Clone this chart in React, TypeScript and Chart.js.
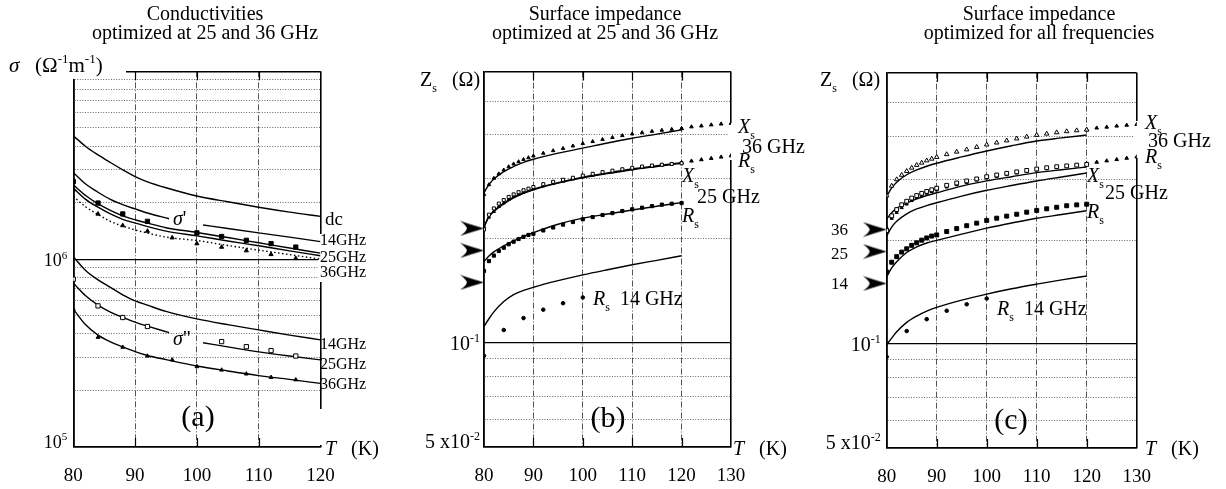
import React, { useEffect, useRef } from 'react';
import { Chart, registerables } from 'chart.js';
Chart.register(...registerables);

const FONT = "'Liberation Serif', 'Times New Roman', serif";

// ---------------- Panel (a): conductivities ----------------
const T_TICKS_A = [80, 90, 100, 110, 120];
const SIGMA_TICKS = [1e5, 2e5, 3e5, 4e5, 5e5, 6e5, 7e5, 8e5, 9e5, 1e6, 2e6, 3e6, 4e6, 5e6, 6e6, 7e6, 8e6, 9e6, 1e7];
const SIGMA_LABEL_VALUES = [1e6, 1e5];
const SIGMA_LABEL_TEXT = [['10', '6'], ['10', '5']];

const T_FIT_A = [80, 82, 84, 86, 88, 90, 92, 95, 100, 105, 110, 115, 120];
const T_GAP_A = [80, 82, 84, 86, 88, 90, 92, 95.5, 98, 101, 105, 110, 115, 120];
const T_DATA_A = [80, 84, 88, 92, 96, 100, 104, 108, 112, 116];

const sigmaDc = [4.54e6, 3.98e6, 3.59e6, 3.27e6, 2.99e6, 2.75e6, 2.58e6, 2.4e6, 2.17e6, 2.02e6, 1.89e6, 1.78e6, 1.69e6];
const sigmaRe14 = [2.89e6, 2.51e6, 2.27e6, 2.08e6, 1.95e6, 1.85e6, 1.76e6, 1.64e6, null, 1.52e6, 1.455e6, 1.38e6, 1.31e6, 1.24e6];
const sigmaRe25 = [2.49e6, 2.18e6, 1.97e6, 1.82e6, 1.7e6, 1.62e6, 1.556e6, 1.47e6, 1.387e6, 1.303e6, 1.222e6, 1.146e6, 1.076e6];
const sigmaRe36 = [2.39e6, 2.08e6, 1.89e6, 1.74e6, 1.63e6, 1.556e6, 1.49e6, 1.41e6, 1.33e6, 1.25e6, 1.178e6, 1.107e6, 1.042e6];
const sigmaReDotted = [2.16e6, 1.9e6, 1.73e6, 1.59e6, 1.5e6, 1.43e6, 1.377e6, 1.31e6, 1.256e6, 1.183e6, 1.117e6, 1.057e6, 1.0e6];
const sigmaRe25Data = [2.59e6, 1.99e6, 1.74e6, 1.59e6, null, 1.38e6, 1.32e6, 1.26e6, 1.21e6, 1.16e6];
const sigmaRe36Data = [2.34e6, 1.74e6, 1.51e6, 1.41e6, 1.3e6, 1.21e6, 1.16e6, 1.11e6, 1.06e6, 1.01e6];

const sigmaIm14 = [1.03e6, 8.71e5, 7.76e5, 7.08e5, 6.46e5, 6.0e5, 5.69e5, 5.27e5, 4.81e5, 4.48e5, 4.2e5, 3.94e5, 3.72e5];
const sigmaIm25 = [7.45e5, 6.38e5, 5.69e5, 5.22e5, 4.9e5, 4.62e5, 4.4e5, 4.06e5, null, 3.59e5, 3.41e5, 3.21e5, 3.05e5, 2.91e5];
const sigmaIm36 = [5.42e5, 4.47e5, 3.94e5, 3.63e5, 3.41e5, 3.22e5, 3.07e5, 2.92e5, 2.7e5, 2.54e5, 2.4e5, 2.29e5, 2.18e5];
const sigmaIm25Data = [7.82e5, 5.64e5, 4.89e5, 4.38e5, null, null, 3.64e5, 3.42e5, 3.26e5, 3.05e5];
const sigmaIm36Data = [5.42e5, 3.84e5, 3.4e5, 3.05e5, 2.91e5, 2.68e5, 2.57e5, 2.45e5, 2.35e5, 2.28e5];

// ---------------- Panels (b), (c): surface impedance ----------------
const T_TICKS_Z = [80, 90, 100, 110, 120, 130];
const Z_TICKS = [0.05, 0.06, 0.07, 0.08, 0.09, 0.1, 0.2, 0.3, 0.4, 0.5, 0.61];
const Z_LABEL_VALUES = [0.1, 0.05];
const Z_LABEL_TEXT = [['10', '-1'], ['5 x10', '-2']];

const T_FIT_Z = [80, 81, 82, 84, 86, 88, 90, 95, 100, 105, 110, 115, 120];
const T_MEAS = [80, 81, 82, 83, 84, 85, 86, 87, 88, 89, 90, 92, 94, 96, 98, 100, 102, 104, 106, 108, 110, 112, 114, 116, 118, 120];
const T_EXT = [120, 122, 124, 126, 128, 130];
const T_R14 = [80, 84, 88, 92, 96, 100];
const ARROW_TEXT = ['36', '25', '14'];

// measured (same in both panels)
const xs36Meas = [0.269, 0.287, 0.2995, 0.3085, 0.3165, 0.3235, 0.3295, 0.3345, 0.3395, 0.3435, 0.3475, 0.354, 0.36, 0.3655, 0.3715, 0.3775, 0.3825, 0.388, 0.393, 0.398, 0.4025, 0.406, 0.4095, 0.4125, 0.415, 0.417];
const rs36Meas = [0.2173, 0.231, 0.24, 0.248, 0.254, 0.26, 0.265, 0.269, 0.273, 0.276, 0.279, 0.2845, 0.289, 0.2935, 0.298, 0.302, 0.3055, 0.309, 0.3125, 0.3155, 0.3185, 0.3215, 0.3245, 0.327, 0.3295, 0.3325];
const xs25Meas = [0.213, 0.235, 0.245, 0.253, 0.259, 0.2645, 0.269, 0.273, 0.2765, 0.2795, 0.2825, 0.288, 0.2925, 0.2965, 0.3005, 0.305, 0.3085, 0.312, 0.315, 0.318, 0.321, 0.3238, 0.326, 0.3278, 0.3295, 0.331];
const rs25Meas = [0.1615, 0.1725, 0.179, 0.1845, 0.1886, 0.193, 0.1963, 0.1998, 0.2028, 0.2053, 0.2069, 0.2116, 0.2158, 0.22, 0.2238, 0.2279, 0.2313, 0.2345, 0.2375, 0.2408, 0.2436, 0.2462, 0.2488, 0.2513, 0.2528, 0.2539];
const rs14Meas = [0.0918, 0.109, 0.118, 0.1248, 0.1303, 0.1354];
const xs36Ext = [0.417, 0.422, 0.4245, 0.4275, 0.43, 0.432];
const rs36Ext = [0.3325, 0.336, 0.339, 0.342, 0.345, 0.348];
const arrowZ = [0.2145, 0.1852, 0.1497];

// fits, panel (b)
const xs36FitB = [0.272, 0.287, 0.298, 0.313, 0.324, 0.333, 0.34, 0.354, 0.366, 0.379, 0.391, 0.402, 0.4135];
const rs36FitB = [0.2173, 0.2323, 0.241, 0.2535, 0.264, 0.272, 0.2786, 0.291, 0.3018, 0.3103, 0.3185, 0.3255, 0.3325];
const xs25FitB = [0.2165, 0.2315, 0.24, 0.2525, 0.263, 0.271, 0.2775, 0.29, 0.3005, 0.309, 0.317, 0.324, 0.331];
const rs25FitB = [0.172, 0.1785, 0.1835, 0.191, 0.1975, 0.2035, 0.2086, 0.2205, 0.2296, 0.236, 0.2425, 0.2487, 0.2547];
const rs14FitB = [0.1115, 0.1175, 0.123, 0.1318, 0.138, 0.1419, 0.1449, 0.1514, 0.1574, 0.1629, 0.1683, 0.1734, 0.1787];

// fits, panel (c)
const xs36FitC = [0.268, 0.283, 0.294, 0.309, 0.319, 0.327, 0.3336, 0.348, 0.362, 0.375, 0.3869, 0.395, 0.4027];
const rs36FitC = [0.23, 0.24, 0.247, 0.256, 0.263, 0.269, 0.274, 0.2865, 0.2965, 0.305, 0.3133, 0.3195, 0.3253];
const xs25FitC = [0.2054, 0.218, 0.2265, 0.238, 0.246, 0.2515, 0.2564, 0.268, 0.2786, 0.2877, 0.2965, 0.3045, 0.3126];
const rs25FitC = [0.1567, 0.166, 0.173, 0.184, 0.191, 0.196, 0.1995, 0.208, 0.2164, 0.224, 0.2312, 0.237, 0.2431];
const rs14FitC = [0.0995, 0.104, 0.1085, 0.1155, 0.1205, 0.1245, 0.1277, 0.134, 0.1395, 0.1445, 0.149, 0.1533, 0.1574];

// ---------------- helpers ----------------
type Part = { t: string; i?: boolean; sub?: boolean; sup?: boolean };
type Label = { x: number; y: number; size: number; parts: Part[]; align?: 'left' | 'center' | 'right' };

const txt = (t: string): Part => ({ t });
const it = (t: string): Part => ({ t, i: true });
const sub = (t: string): Part => ({ t, sub: true });
const sup = (t: string): Part => ({ t, sup: true });

function drawRich(ctx: CanvasRenderingContext2D, lab: Label) {
  const size = lab.size;
  const font = (p: Part) => `${p.i ? 'italic ' : ''}${p.sub || p.sup ? Math.round(size * 0.62) : size}px ${FONT}`;
  let w = 0;
  for (const p of lab.parts) {
    ctx.font = font(p);
    w += ctx.measureText(p.t).width;
  }
  let x = lab.align === 'center' ? lab.x - w / 2 : lab.align === 'right' ? lab.x - w : lab.x;
  ctx.save();
  ctx.fillStyle = '#000';
  ctx.textBaseline = 'alphabetic';
  ctx.textAlign = 'left';
  for (const p of lab.parts) {
    ctx.font = font(p);
    const dy = p.sub ? size * 0.3 : p.sup ? -size * 0.42 : 0;
    ctx.fillText(p.t, x, lab.y + dy);
    x += ctx.measureText(p.t).width;
  }
  ctx.restore();
}

const pts = (xs: number[], ys: (number | null)[]) => xs.map((x, i) => ({ x, y: ys[i] }));

const curve = (xs: number[], ys: (number | null)[], dash: number[] = []) => ({
  data: pts(xs, ys),
  showLine: true,
  borderColor: '#000',
  borderWidth: 1.4,
  borderDash: dash,
  pointRadius: 0,
  cubicInterpolationMode: 'monotone',
  spanGaps: false,
  order: 2,
});

const marks = (xs: number[], ys: (number | null)[], style: any, r: number, filled: boolean) => ({
  data: pts(xs, ys).filter((p) => p.y !== null),
  showLine: false,
  pointStyle: style,
  pointRadius: r,
  pointBorderWidth: 1,
  pointBorderColor: '#000',
  pointBackgroundColor: filled ? '#000' : '#fff',
  order: 1,
});

function makeArrow() {
  const c = document.createElement('canvas');
  c.width = 24;
  c.height = 16;
  const g = c.getContext('2d')!;
  g.fillStyle = '#000';
  g.beginPath();
  g.moveTo(24, 8);
  g.quadraticCurveTo(12, 4.5, 0, 0.5);
  g.quadraticCurveTo(6, 4.5, 7, 8);
  g.quadraticCurveTo(6, 11.5, 0, 15.5);
  g.quadraticCurveTo(12, 11.5, 24, 8);
  g.closePath();
  g.fill();
  return c;
}

// ---------------- text labels ----------------
const LABELS_A: Label[] = [
  { x: 205, y: 20, size: 20, align: 'center', parts: [txt('Conductivities')] },
  { x: 205, y: 38.5, size: 20, align: 'center', parts: [txt('optimized at 25 and 36 GHz')] },
  { x: 9, y: 72, size: 21, parts: [it('σ'), txt('   (Ω'), sup('-1'), txt('m'), sup('-1'), txt(')')] },
  { x: 325, y: 225, size: 19, parts: [txt('dc')] },
  { x: 320, y: 245, size: 16, parts: [txt('14GHz')] },
  { x: 320, y: 261.5, size: 16, parts: [txt('25GHz')] },
  { x: 320, y: 277, size: 16, parts: [txt('36GHz')] },
  { x: 320, y: 349, size: 16, parts: [txt('14GHz')] },
  { x: 320, y: 369, size: 16, parts: [txt('25GHz')] },
  { x: 320, y: 389, size: 16, parts: [txt('36GHz')] },
  { x: 173, y: 225, size: 20, parts: [it('σ'), txt("'")] },
  { x: 173, y: 345, size: 20, parts: [it('σ'), txt('"')] },
  { x: 198, y: 426, size: 30, align: 'center', parts: [txt('(a)')] },
  { x: 325, y: 455, size: 20, parts: [it('T'), txt('   (K)')] },
];

const LABELS_B: Label[] = [
  { x: 605, y: 20, size: 20, align: 'center', parts: [txt('Surface impedance')] },
  { x: 605, y: 38.5, size: 20, align: 'center', parts: [txt('optimized at 25 and 36 GHz')] },
  { x: 420, y: 86, size: 20, parts: [txt('Z'), sub('s'), txt('   (Ω)')] },
  { x: 738, y: 133, size: 20, parts: [it('X'), sub('s')] },
  { x: 742, y: 153, size: 20, parts: [txt('36 GHz')] },
  { x: 738, y: 167, size: 20, parts: [it('R'), sub('s')] },
  { x: 682, y: 182, size: 20, parts: [it('X'), sub('s')] },
  { x: 697, y: 203, size: 20, parts: [txt('25 GHz')] },
  { x: 682, y: 222, size: 20, parts: [it('R'), sub('s')] },
  { x: 593, y: 305, size: 20, parts: [it('R'), sub('s'), txt('  14 GHz')] },
  { x: 608, y: 427, size: 30, align: 'center', parts: [txt('(b)')] },
  { x: 733, y: 455, size: 20, parts: [it('T'), txt('   (K)')] },
];

const LABELS_C: Label[] = [
  { x: 1039, y: 20, size: 20, align: 'center', parts: [txt('Surface impedance')] },
  { x: 1039, y: 38.5, size: 20, align: 'center', parts: [txt('optimized for all frequencies')] },
  { x: 820, y: 86, size: 20, parts: [txt('Z'), sub('s'), txt('   (Ω)')] },
  { x: 848, y: 235, size: 17, align: 'right', parts: [txt(ARROW_TEXT[0])] },
  { x: 848, y: 259, size: 17, align: 'right', parts: [txt(ARROW_TEXT[1])] },
  { x: 848, y: 289, size: 17, align: 'right', parts: [txt(ARROW_TEXT[2])] },
  { x: 1145, y: 129, size: 20, parts: [it('X'), sub('s')] },
  { x: 1148, y: 147, size: 20, parts: [txt('36 GHz')] },
  { x: 1145, y: 163, size: 20, parts: [it('R'), sub('s')] },
  { x: 1087, y: 182, size: 20, parts: [it('X'), sub('s')] },
  { x: 1105, y: 199, size: 20, parts: [txt('25 GHz')] },
  { x: 1087, y: 218, size: 20, parts: [it('R'), sub('s')] },
  { x: 997, y: 315, size: 20, parts: [it('R'), sub('s'), txt('  14 GHz')] },
  { x: 1011, y: 429, size: 30, align: 'center', parts: [txt('(c)')] },
  { x: 1145, y: 455, size: 20, parts: [it('T'), txt('   (K)')] },
];

// ---------------- chart factory ----------------
const W = 1226;
const H = 489;

function makeChart(canvas: HTMLCanvasElement, spec: any) {
  const near = (a: number, b: number) => Math.abs(a - b) <= Math.abs(b) * 1e-9;
  const edgeX = (v: any) => v !== undefined && (near(v, spec.xMin) || near(v, spec.xMax));
  const edgeY = (v: any) => v !== undefined && (near(v, spec.yMin) || near(v, spec.yMax));
  const majorY = (v: any) => v !== undefined && near(v, spec.yMajor);
  const xAxisH = H - spec.box.b;

  const decor = {
    id: 'decor_' + spec.id,
    beforeDatasetsDraw(chart: any) {
      const ctx = chart.ctx;
      const area = chart.chartArea;
      const xs = chart.scales.x;
      ctx.save();
      ctx.fillStyle = '#fff';
      for (const g of spec.gaps) ctx.fillRect(g[0], g[1], g[2], g[3]);
      ctx.strokeStyle = '#000';
      ctx.lineWidth = 1.2;
      ctx.setLineDash([]);
      for (const v of spec.innerTicks) {
        const px = Math.round(xs.getPixelForValue(v)) + 0.5;
        ctx.beginPath();
        ctx.moveTo(px, area.top);
        ctx.lineTo(px, area.top + 9);
        ctx.moveTo(px, area.bottom - 9);
        ctx.lineTo(px, area.bottom);
        ctx.stroke();
      }
      ctx.restore();
    },
    afterDatasetsDraw(chart: any) {
      if (!spec.arrows) return;
      const ctx = chart.ctx;
      const ys = chart.scales.y;
      const area = chart.chartArea;
      for (const v of spec.arrows) {
        const py = ys.getPixelForValue(v);
        ctx.drawImage(spec.arrowImg, area.left - spec.arrowImg.width, py - spec.arrowImg.height / 2);
      }
    },
    afterDraw(chart: any) {
      const ctx = chart.ctx;
      const ys = chart.scales.y;
      const area = chart.chartArea;
      spec.yLabelVals.forEach((v: number, i: number) => {
        const py = Math.min(ys.getPixelForValue(v) + 7, area.bottom + 1);
        drawRich(ctx, {
          x: area.left - spec.yLabelGap,
          y: py,
          size: spec.yLabelSize,
          align: 'right',
          parts: [txt(spec.yLabelText[i][0]), sup(spec.yLabelText[i][1])],
        });
      });
      for (const lab of spec.labels) drawRich(ctx, lab);
    },
  };

  return new Chart(canvas, {
    type: 'scatter',
    data: { datasets: spec.datasets },
    options: {
      animation: false,
      responsive: false,
      events: [],
      layout: {
        padding: { left: spec.box.l, right: W - spec.box.r, top: spec.box.t, bottom: 0 },
      },
      plugins: { legend: { display: false }, tooltip: { enabled: false }, title: { display: false } },
      scales: {
        x: {
          type: 'linear',
          min: spec.xMin,
          max: spec.xMax,
          afterBuildTicks: (s: any) => {
            s.ticks = spec.xTicks.map((v: number) => ({ value: v }));
          },
          afterFit: (s: any) => {
            s.height = xAxisH;
          },
          ticks: {
            padding: 18,
            color: '#000',
            autoSkip: false,
            maxRotation: 0,
            font: { family: FONT, size: 19 },
            callback: (v: any) => String(v),
          },
          grid: {
            drawTicks: false,
            color: (c: any) => (edgeX(c.tick && c.tick.value) ? '#000' : '#555'),
            lineWidth: (c: any) => (edgeX(c.tick && c.tick.value) ? 1.6 : 1),
          },
          border: {
            color: '#000',
            width: 1.6,
            dash: (c: any) => (c.tick && !edgeX(c.tick.value) ? [6, 2, 1, 2] : []),
          },
        },
        y: {
          type: 'logarithmic',
          min: spec.yMin,
          max: spec.yMax,
          afterBuildTicks: (s: any) => {
            s.ticks = spec.yTicks.map((v: number) => ({ value: v }));
          },
          afterFit: (s: any) => {
            s.width = 0;
          },
          ticks: { display: false },
          grid: {
            drawTicks: false,
            color: (c: any) => {
              const v = c.tick && c.tick.value;
              return edgeY(v) || majorY(v) ? '#000' : '#666';
            },
            lineWidth: (c: any) => {
              const v = c.tick && c.tick.value;
              return edgeY(v) ? 1.6 : majorY(v) ? 1.2 : 1;
            },
          },
          border: {
            color: '#000',
            width: 1.6,
            dash: (c: any) => {
              const v = c.tick && c.tick.value;
              return c.tick && !edgeY(v) && !majorY(v) ? [1, 1.6] : [];
            },
          },
        },
      },
    } as any,
    plugins: [decor],
  });
}

function specA() {
  return {
    id: 'a',
    box: { l: 73.3, r: 320.5, t: 71.3, b: 447 },
    xMin: 80,
    xMax: 120,
    xTicks: T_TICKS_A,
    yMin: 1e5,
    yMax: 1e7,
    yMajor: 1e6,
    yTicks: SIGMA_TICKS,
    yLabelVals: SIGMA_LABEL_VALUES,
    yLabelText: SIGMA_LABEL_TEXT,
    yLabelSize: 18,
    yLabelGap: 6,
    datasets: [
      curve(T_FIT_A, sigmaDc),
      curve(T_GAP_A, sigmaRe14),
      curve(T_FIT_A, sigmaRe25),
      curve(T_FIT_A, sigmaRe36),
      curve(T_FIT_A, sigmaReDotted, [1.5, 2.5]),
      marks(T_DATA_A, sigmaRe25Data, 'rect', 3, true),
      marks(T_DATA_A, sigmaRe36Data, 'triangle', 2.4, true),
      curve(T_FIT_A, sigmaIm14),
      curve(T_GAP_A, sigmaIm25),
      curve(T_FIT_A, sigmaIm36),
      marks(T_DATA_A, sigmaIm25Data, 'rect', 3, false),
      marks(T_DATA_A, sigmaIm36Data, 'triangle', 2.2, true),
    ],
    labels: LABELS_A,
    gaps: [
      [58, 60, 68, 19],
      [318, 234, 6, 48],
      [318, 409, 6, 36],
    ],
    innerTicks: [90, 100, 110],
  };
}

function zDatasets(fits: any, openXs36: boolean, s: number) {
  return [
    curve(T_FIT_Z, fits.xs36),
    curve(T_FIT_Z, fits.rs36),
    curve(T_FIT_Z, fits.xs25),
    curve(T_FIT_Z, fits.rs25),
    curve(T_FIT_Z, fits.rs14),
    marks(T_MEAS, xs36Meas, 'triangle', openXs36 ? 2.6 : 2.0, !openXs36),
    marks(T_EXT, xs36Ext, 'triangle', 2.1, true),
    marks(T_MEAS, xs25Meas, 'rect', 2.7 * s, false),
    marks(T_MEAS, rs36Meas, 'triangle', 1.8, true),
    marks(T_EXT, rs36Ext, 'triangle', 2.1, true),
    marks(T_MEAS, rs25Meas, 'rect', 2.8 * s, true),
    marks(T_R14, rs14Meas, 'circle', 1.8, true),
  ];
}

function specB(arrow: HTMLCanvasElement) {
  return {
    id: 'b',
    box: { l: 484, r: 731, t: 71.5, b: 447 },
    xMin: 80,
    xMax: 130,
    xTicks: T_TICKS_Z,
    yMin: 0.05,
    yMax: 0.61,
    yMajor: 0.1,
    yTicks: Z_TICKS,
    yLabelVals: Z_LABEL_VALUES,
    yLabelText: Z_LABEL_TEXT,
    yLabelSize: 20,
    yLabelGap: 4,
    datasets: zDatasets({ xs36: xs36FitB, rs36: rs36FitB, xs25: xs25FitB, rs25: rs25FitB, rs14: rs14FitB }, false, 0.8),
    labels: LABELS_B,
    gaps: [[728, 123, 6, 37]],
    innerTicks: [90, 100, 110, 120],
    arrows: arrowZ,
    arrowImg: arrow,
  };
}

function specC(arrow: HTMLCanvasElement) {
  return {
    id: 'c',
    box: { l: 886.7, r: 1136.7, t: 72.7, b: 448 },
    xMin: 80,
    xMax: 130,
    xTicks: T_TICKS_Z,
    yMin: 0.05,
    yMax: 0.61,
    yMajor: 0.1,
    yTicks: Z_TICKS,
    yLabelVals: Z_LABEL_VALUES,
    yLabelText: Z_LABEL_TEXT,
    yLabelSize: 20,
    yLabelGap: 6,
    datasets: zDatasets({ xs36: xs36FitC, rs36: rs36FitC, xs25: xs25FitC, rs25: rs25FitC, rs14: rs14FitC }, true, 1),
    labels: LABELS_C,
    gaps: [[1134, 121, 6, 37]],
    innerTicks: [90, 100, 110, 120],
    arrows: arrowZ,
    arrowImg: arrow,
  };
}

export default function App() {
  const refA = useRef<HTMLCanvasElement>(null);
  const refB = useRef<HTMLCanvasElement>(null);
  const refC = useRef<HTMLCanvasElement>(null);

  useEffect(() => {
    const arrow = makeArrow();
    const charts = [
      makeChart(refA.current!, specA()),
      makeChart(refB.current!, specB(arrow)),
      makeChart(refC.current!, specC(arrow)),
    ];
    return () => charts.forEach((c) => c.destroy());
  }, []);

  const st: React.CSSProperties = { position: 'absolute', left: 0, top: 0, width: W, height: H };
  return (
    <div style={{ position: 'absolute', left: 0, top: 0, width: W, height: H, background: '#fff' }}>
      <canvas ref={refA} width={W} height={H} style={st} />
      <canvas ref={refB} width={W} height={H} style={st} />
      <canvas ref={refC} width={W} height={H} style={st} />
    </div>
  );
}
